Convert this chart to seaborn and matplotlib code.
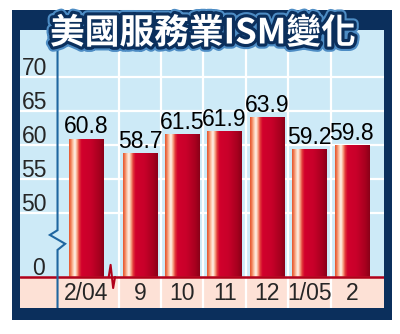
import numpy as np
import pandas as pd
import matplotlib
matplotlib.use('Agg')
import matplotlib.pyplot as plt
import seaborn as sns
import matplotlib.patheffects as pe
from matplotlib.colors import LinearSegmentedColormap
from matplotlib.patches import Rectangle

# ---- data ----
months = ['2/04', '9', '10', '11', '12', '1/05', '2']
ism = [60.8, 58.7, 61.5, 61.9, 63.9, 59.2, 59.8]
ytick_vals = [50, 55, 60, 65, 70]
ytick_labels = ['50', '55', '60', '65', '70']
zero_label = '0'
title = '美國服務業ISM變化'

# ---- layout constants ----
BASE = 40.52          # where the broken axis shows 0
GAP = 0.27            # extra gap after the first bar (time break)
YLO, YHI = 35.96, 76.84
XLO, XHI = -1.557, 7.028
FS = 16.5

sns.set_style('white')
plt.rcParams['font.family'] = ['Liberation Sans', 'DejaVu Sans']

idx = np.arange(len(months))
pos = idx + np.where(idx > 0, GAP, 0.0)
df = pd.DataFrame({'pos': pos, 'ism': ism})

W, H = 400, 334
fig = plt.figure(figsize=(4, 3.34), dpi=100)
fig.patch.set_facecolor('white')
fx = lambda x: x / W
fy = lambda y: 1 - y / H

fig.patches.append(Rectangle((fx(12), fy(320)), fx(392) - fx(12), fy(10) - fy(320),
                             transform=fig.transFigure, facecolor='#0b2f5c',
                             edgecolor='none', zorder=-5))

ax = fig.add_axes([fx(20), fy(308), fx(384) - fx(20), fy(30) - fy(308)])
ax.set_zorder(1)
ax.set_facecolor('#cdeaf7')

sns.barplot(data=df, x='pos', y='ism', native_scale=True, width=0.81,
            color='#c8002a', errorbar=None, ax=ax, zorder=3)

cmap = LinearSegmentedColormap.from_list('bar', [
    (0.00, '#e4542c'), (0.05, '#f07a52'), (0.11, '#fbc2a4'), (0.17, '#fff4ec'),
    (0.23, '#f8a686'), (0.29, '#e23a3a'), (0.36, '#d2002c'), (0.62, '#c8002a'),
    (0.86, '#a8001f'), (1.00, '#8a0018')])
grad = np.linspace(0, 1, 256).reshape(1, -1)
for p in list(ax.patches):
    x0, w, y0, h = p.get_x(), p.get_width(), p.get_y(), p.get_height()
    ax.imshow(grad, cmap=cmap, extent=[x0, x0 + w, max(y0, YLO), y0 + h],
              aspect='auto', zorder=3, interpolation='bilinear')
    p.set_facecolor('none')
    p.set_edgecolor('none')

ax.bar_label(ax.containers[0], fmt='%.1f', padding=0.5, fontsize=FS, color='black', zorder=7)

# grid
for v in ytick_vals:
    ax.axhline(v, color='white', lw=1.6, zorder=1)
# bottom band
ax.axhspan(YLO, BASE, color='#fde1d6', zorder=4)
for p in pos[1:]:
    ax.axvline(p - 0.5, color='white', lw=1.6, zorder=5)

# baseline with break mark
ax.axhline(BASE, color='#b0001a', lw=1.8, zorder=6)
mid = (pos[0] + pos[1]) / 2
ax.plot([mid - 0.10, mid - 0.055, mid + 0.005, mid + 0.05],
        [BASE, 42.3, 38.9, BASE], color='#b0001a', lw=1.5, zorder=6)

# left axis line with break mark
ax_x = pos[0] - 0.672
ax.plot([ax_x, ax_x, ax_x - 0.18, ax_x + 0.18, ax_x, ax_x],
        [YHI, 47.4, 46.7, 45.4, 44.5, YLO], color='#1f66a0', lw=1.5, zorder=6,
        solid_joinstyle='miter')

# y labels (sit just above their grid lines)
lab_x = pos[0] - 0.92
for v, t in zip(ytick_vals, ytick_labels):
    ax.text(lab_x, v + 0.25, t, ha='right', va='baseline', fontsize=FS, zorder=7)
ax.text(lab_x - 0.05, BASE + 0.3, zero_label, ha='right', va='baseline', fontsize=FS, zorder=7)

ax.set_xticks(pos, months)
ax.tick_params(axis='x', length=0, pad=-19, labelsize=FS)
ax.xaxis.set_zorder(9)
ax.set_yticks([])
ax.set_xlabel('')
ax.set_ylabel('')
ax.set_xlim(XLO, XHI)
ax.set_ylim(YLO, YHI)
for s in ax.spines.values():
    s.set_visible(False)

fig.text(fx(203), fy(33), title, fontsize=25, fontweight='bold',
         family=['Noto Sans CJK TC', 'DejaVu Sans'], color='white',
         ha='center', va='center', zorder=10,
         path_effects=[pe.Stroke(linewidth=7.5, foreground='#4d8cc4'),
                       pe.Stroke(linewidth=4.5, foreground='#0b2f5c'),
                       pe.Normal()])

fig.savefig('out.png', dpi=100)
